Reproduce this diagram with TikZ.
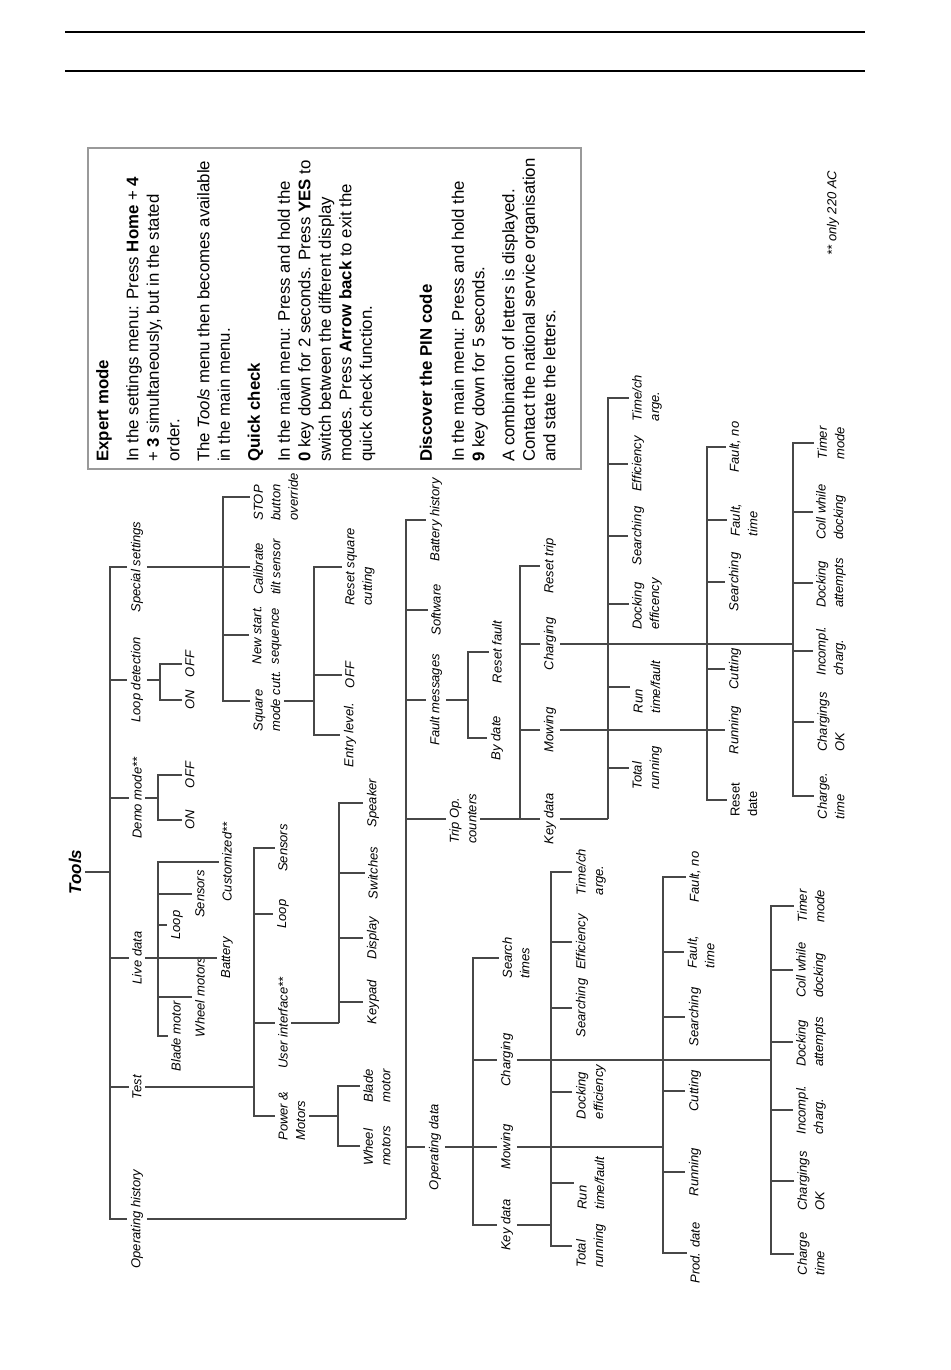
\documentclass[tikz,border=0pt]{standalone}
\usepackage{fontspec}
\setmainfont{Liberation Sans}
\begin{document}
\begin{tikzpicture}[x=1pt,y=-1pt,
  lbl/.style={rotate=90,align=left,inner xsep=1pt,inner ysep=3.5pt,font=\fontsize{13}{17.5}\selectfont\itshape},
  conn/.style={draw=black!72,line width=1.2pt}]
  \useasboundingbox (0,0) rectangle (950,1370);
  \draw [line width=2pt] (65,32) -- (865,32) (65,71) -- (865,71);

  \draw [draw=black!40,line width=1.5pt] (88,148) rectangle (581,469);
  \node [rotate=90,anchor=north west,align=left,inner sep=0pt,font=\fontsize{16.8}{20.5}\selectfont] (info) at (96,462) {%
    \textbf{Expert mode}\\[9.5pt]
    In the settings menu: Press \textbf{Home} + \textbf{4}\\
    + \textbf{3} simultaneously, but in the stated\\
    order.\\[9.5pt]
    The \textit{Tools} menu then becomes available\\
    in the main menu.\\[9.5pt]
    \textbf{Quick check}\\[9.5pt]
    In the main menu: Press and hold the\\
    \textbf{0} key down for 2 seconds. Press \textbf{YES} to\\
    switch between the different display\\
    modes. Press \textbf{Arrow back} to exit the\\
    quick check function.\\[39.5pt]
    \textbf{Discover the PIN code}\\[11.5pt]
    In the main menu: Press and hold the\\
    \textbf{9} key down for 5 seconds.\\[9.5pt]
    A combination of letters is displayed.\\
    Contact the national service organisation\\
    and state the letters.};
  \node [rotate=90,font=\fontsize{13}{16}\selectfont\itshape] (note) at (833,213) {** only 220 AC};

  \node [rotate=90,inner ysep=4pt,font=\fontsize{17}{20}\selectfont\bfseries\itshape] (tools) at (75,872) {Tools};
  \node [lbl] (ophist) at (137,1219) {Operating history};
  \node [lbl] (test) at (137,1087) {Test};
  \node [lbl] (live) at (137,958) {Live data};
  \node [lbl] (demo) at (137,798) {Demo mode**};
  \node [lbl] (loopdet) at (137,680) {Loop detection};
  \node [lbl] (special) at (137,567) {Special settings};
  \coordinate (tb) at (110,872);
  \draw [conn] (tools.south) -- (tb);
  \foreach \n in {ophist,test,live,demo,loopdet,special} \draw [conn] (tb) |- (\n.north);

  \node [lbl] (lblade) at (176,1036) {Blade motor};
  \node [lbl] (lwheel) at (200,997) {Wheel motors};
  \node [lbl] (lbatt) at (227,958) {Battery};
  \node [lbl] (lloop) at (177,925) {Loop};
  \node [lbl] (lsens) at (200,894) {Sensors};
  \node [lbl] (lcust) at (227,862) {Customized**};
  \coordinate (liveb) at (158,958);
  \draw [conn] (live.south) -- (liveb);
  \foreach \n in {lblade,lwheel,lbatt,lloop,lsens,lcust} \draw [conn] (liveb) |- (\n.north);

  \node [lbl] (don) at (190,820) {ON};
  \node [lbl] (doff) at (190,775) {OFF};
  \coordinate (demob) at (158,798);
  \draw [conn] (demo.south) -- (demob);
  \foreach \n in {don,doff} \draw [conn] (demob) |- (\n.north);

  \node [lbl] (lon) at (190,700) {ON};
  \node [lbl] (loff) at (190,664) {OFF};
  \coordinate (loopb) at (160,680);
  \draw [conn] (loopdet.south) -- (loopb);
  \foreach \n in {lon,loff} \draw [conn] (loopb) |- (\n.north);

  \node [lbl] (square) at (267,701) {Square\\mode cutt.};
  \node [lbl] (newstart) at (267,635) {New start.\\sequence};
  \node [lbl] (calib) at (267,567) {Calibrate\\tilt sensor};
  \node [lbl] (stop) at (276,497) {STOP\\button\\override};
  \coordinate (specb) at (223,567);
  \draw [conn] (special.south) -- (specb);
  \foreach \n in {square,newstart,calib,stop} \draw [conn] (specb) |- (\n.north);

  \node [lbl] (entry) at (350,735) {Entry level.};
  \node [lbl] (soff) at (350,675) {OFF};
  \node [lbl] (rsquare) at (360,567) {Reset square\\cutting};
  \coordinate (sqb) at (314,701);
  \draw [conn] (square.south) -- (sqb);
  \foreach \n in {entry,soff,rsquare} \draw [conn] (sqb) |- (\n.north);

  \node [lbl] (pm) at (292,1116) {Power \&\\Motors};
  \node [lbl] (ui) at (283,1023) {User interface**};
  \node [lbl] (tloop) at (283,914) {Loop};
  \node [lbl] (tsens) at (283,848) {Sensors};
  \coordinate (testb) at (254,1087);
  \draw [conn] (test.south) -- (testb);
  \foreach \n in {pm,ui,tloop,tsens} \draw [conn] (testb) |- (\n.north);

  \node [lbl] (wheel) at (377,1146) {Wheel\\motors};
  \node [lbl] (blade) at (377,1086) {Blade\\motor};
  \coordinate (pmb) at (338,1116);
  \draw [conn] (pm.south) -- (pmb);
  \foreach \n in {wheel,blade} \draw [conn] (pmb) |- (\n.north);

  \node [lbl] (keypad) at (373,1002) {Keypad};
  \node [lbl] (display) at (373,938) {Display};
  \node [lbl] (switches) at (373,873) {Switches};
  \node [lbl] (speaker) at (373,803) {Speaker};
  \coordinate (uib) at (339,1023);
  \draw [conn] (ui.south) -- (uib);
  \foreach \n in {keypad,display,switches,speaker} \draw [conn] (uib) |- (\n.north);

  \node [lbl] (opdata) at (435,1147) {Operating data};
  \node [lbl] (trip) at (463,819) {Trip Op.\\counters};
  \node [lbl] (fault) at (436,700) {Fault messages};
  \node [lbl] (software) at (436,610) {Software};
  \node [lbl] (batthist) at (436,520) {Battery history};
  \coordinate (ophb) at (406,1219);
  \draw [conn] (ophist.south) -- (ophb);
  \foreach \n in {opdata,trip,fault,software,batthist} \draw [conn] (ophb) |- (\n.north);

  \node [lbl] (bydate) at (497,738) {By date};
  \node [lbl] (rfault) at (497,652) {Reset fault};
  \coordinate (faultb) at (468,700);
  \draw [conn] (fault.south) -- (faultb);
  \foreach \n in {bydate,rfault} \draw [conn] (faultb) |- (\n.north);

  \node [lbl] (tkey) at (550,819) {Key data};
  \node [lbl] (tmow) at (550,730) {Mowing};
  \node [lbl] (tcharg) at (550,644) {Charging};
  \node [lbl] (treset) at (550,566) {Reset trip};
  \coordinate (tripb) at (520,819);
  \draw [conn] (trip.south) -- (tripb);
  \foreach \n in {tkey,tmow,tcharg,treset} \draw [conn] (tripb) |- (\n.north);

  \node [lbl] (tk1) at (647,768) {Total\\running};
  \node [lbl] (tk2) at (647,687) {Run\\time/fault};
  \node [lbl] (tk3) at (647,604) {Docking\\efficency};
  \node [lbl] (tk4) at (638,536) {Searching};
  \node [lbl] (tk5) at (638,464) {Efficiency};
  \node [lbl] (tk6) at (647,398) {Time/ch\\arge.};
  \coordinate (tkeyb) at (608,819);
  \draw [conn] (tkey.south) -- (tkeyb);
  \foreach \n in {tk1,tk2,tk3,tk4,tk5,tk6} \draw [conn] (tkeyb) |- (\n.north);

  \node [lbl,font=\fontsize{13}{17.5}\selectfont\upshape] (tm1) at (744,800) {Reset\\date};
  \node [lbl] (tm2) at (735,730) {Running};
  \node [lbl] (tm3) at (735,669) {Cutting};
  \node [lbl] (tm4) at (735,582) {Searching};
  \node [lbl] (tm5) at (744,520) {Fault,\\time};
  \node [lbl] (tm6) at (735,447) {Fault, no};
  \coordinate (tmowb) at (707,730);
  \draw [conn] (tmow.south) -- (tmowb);
  \foreach \n in {tm1,tm2,tm3,tm4,tm5,tm6} \draw [conn] (tmowb) |- (\n.north);

  \node [lbl] (tc1) at (831,796) {Charge.\\time};
  \node [lbl] (tc2) at (831,722) {Chargings\\OK};
  \node [lbl] (tc3) at (831,651) {Incompl.\\charg.};
  \node [lbl] (tc4) at (831,583) {Docking\\attempts};
  \node [lbl] (tc5) at (831,512) {Coll while\\docking};
  \node [lbl] (tc6) at (831,443) {Timer\\mode};
  \coordinate (tchb) at (793,644);
  \draw [conn] (tcharg.south) -- (tchb);
  \foreach \n in {tc1,tc2,tc3,tc4,tc5,tc6} \draw [conn] (tchb) |- (\n.north);

  \node [lbl] (okey) at (507,1225) {Key data};
  \node [lbl] (omow) at (507,1147) {Mowing};
  \node [lbl] (ocharg) at (507,1060) {Charging};
  \node [lbl] (osearch) at (516,958) {Search\\times};
  \coordinate (opb) at (473,1147);
  \draw [conn] (opdata.south) -- (opb);
  \foreach \n in {okey,omow,ocharg,osearch} \draw [conn] (opb) |- (\n.north);

  \node [lbl] (ok1) at (591,1246) {Total\\running};
  \node [lbl] (ok2) at (591,1183) {Run\\time/fault};
  \node [lbl] (ok3) at (591,1092) {Docking\\efficiency};
  \node [lbl] (ok4) at (582,1008) {Searching};
  \node [lbl] (ok5) at (582,942) {Efficiency};
  \node [lbl] (ok6) at (591,872) {Time/ch\\arge.};
  \coordinate (okeyb) at (551,1225);
  \draw [conn] (okey.south) -- (okeyb);
  \foreach \n in {ok1,ok2,ok3,ok4,ok5,ok6} \draw [conn] (okeyb) |- (\n.north);

  \node [lbl] (om1) at (695,1253) {Prod. date};
  \node [lbl] (om2) at (695,1172) {Running};
  \node [lbl] (om3) at (695,1091) {Cutting};
  \node [lbl] (om4) at (695,1017) {Searching};
  \node [lbl] (om5) at (701,952) {Fault,\\time};
  \node [lbl] (om6) at (695,877) {Fault, no};
  \coordinate (omowb) at (663,1147);
  \draw [conn] (omow.south) -- (omowb);
  \foreach \n in {om1,om2,om3,om4,om5,om6} \draw [conn] (omowb) |- (\n.north);

  \node [lbl] (oc1) at (811,1254) {Charge\\time};
  \node [lbl] (oc2) at (811,1181) {Chargings\\OK};
  \node [lbl] (oc3) at (811,1110) {Incompl.\\charg.};
  \node [lbl] (oc4) at (811,1042) {Docking\\attempts};
  \node [lbl] (oc5) at (811,970) {Coll while\\docking};
  \node [lbl] (oc6) at (811,906) {Timer\\mode};
  \coordinate (ochb) at (771,1060);
  \draw [conn] (ocharg.south) -- (ochb);
  \foreach \n in {oc1,oc2,oc3,oc4,oc5,oc6} \draw [conn] (ochb) |- (\n.north);
\end{tikzpicture}
\end{document}
